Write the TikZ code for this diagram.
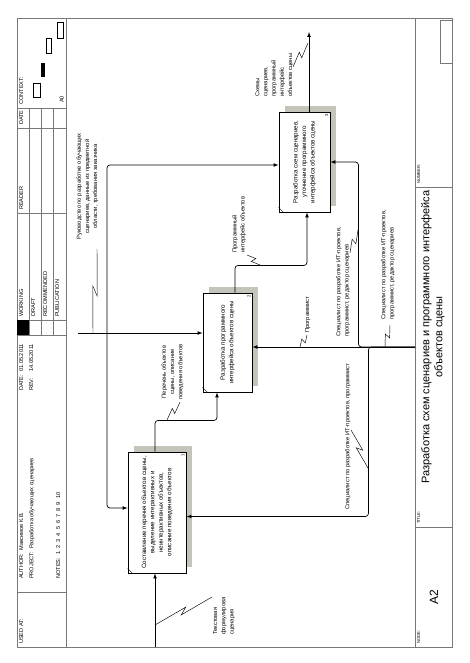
\documentclass[tikz,border=0pt]{standalone}
\usepackage{fontspec}
\setmainfont{Liberation Sans}
\usepackage{tikz}
\usetikzlibrary{calc}
\usetikzlibrary{arrows}
\usetikzlibrary{backgrounds}
\definecolor{shadowgray}{RGB}{196, 196, 186}
\definecolor{framegray}{RGB}{120, 120, 120}
\newcommand{\lblfont}{\fontsize{5.8}{8.2}\selectfont}
\newcommand{\boxfont}{\fontsize{6.2}{8.4}\selectfont}
\newcommand{\hdrfont}{\fontsize{5.6}{6.5}\selectfont}
\newcommand{\tinyfont}{\fontsize{4.2}{5}\selectfont}
\newcommand{\squig}[2]{\draw[squiggle] #1 -- ($#1!.56!#2!2.5pt!90:#2$) -- ($#1!.44!#2!2.5pt!-90:#2$) -- #2;}
\tikzset{
  act/.style={draw, line width=0.9pt, fill=white, align=center, font=\boxfont, inner sep=2pt},
  link/.style={line width=0.7pt, rounded corners=3pt},
  squiggle/.style={line width=0.45pt},
  lbl/.style={font=\lblfont, align=left, anchor=north west},
  hdr/.style={font=\hdrfont, anchor=north west},
  rule/.style={draw=framegray, line width=0.6pt},
}
\begin{document}
\begin{tikzpicture}[x=1pt, y=1pt, >=latex, every node/.style={rotate=90, inner sep=0pt}]
        \useasboundingbox (0,0) rectangle (469,663);
        % frame, header and footer
        \draw[rule] (17,16) rectangle (452,645);
        \draw[rule] (66,16) -- (66,645);
        \draw[rule] (415,16) -- (415,645);
        \foreach \u in {71,328,343,450,535,555}
            \draw[rule] (17,\u) -- (66,\u);
        \foreach \v in {29,41,53}
            \draw[rule] (\v,328) -- (\v,555);
        \fill (17,328) rectangle (29,343);
        \foreach \u in {136,476}
            \draw[rule] (415,\u) -- (452,\u);
        \draw[rule] (440,600) rectangle (452,643);
        \draw[line width=0.5pt] (33,566) rectangle (40,580);
        \fill                   (41,586) rectangle (45,600);
        \draw[line width=0.5pt] (46,610) rectangle (51,625);
        \draw[line width=0.5pt] (57,625) rectangle (63,641);

        \node[hdr] (usedat)   at (19,19)  {USED AT:};
        \node[hdr] (author)   at (19,84)  {AUTHOR:\ \ Максимов К.В.};
        \node[hdr] (project)  at (29,84)  {PROJECT:\ \ Разработка обучающих сценариев};
        \node[hdr] (notes)    at (56,84)  {NOTES:\ \ 1\ \ 2\ \ 3\ \ 4\ \ 5\ \ 6\ \ 7\ \ 8\ \ 9\ \ 10};
        \node[hdr] (date)     at (19,272) {DATE:\ \ 01.05.2011};
        \node[hdr] (rev)      at (29,272) {REV:\ \ \ \ 14.05.2011};
        \node[hdr] (working)  at (19,346) {WORKING};
        \node[hdr] (draft)    at (31,346) {DRAFT};
        \node[hdr] (recom)    at (43,346) {RECOMMENDED};
        \node[hdr] (publ)     at (55,346) {PUBLICATION};
        \node[hdr] (reader)   at (19,453) {READER};
        \node[hdr] (rdate)    at (19,538) {DATE};
        \node[hdr] (context)  at (19,558) {CONTEXT:};
        \node[hdr, anchor=south west] (ctxnode) at (64,560) {A0};
        \node[hdr, font=\tinyfont] (nodelbl)  at (417,19)  {NODE:};
        \node[hdr, font=\tinyfont] (titlelbl) at (417,139) {TITLE:};
        \node[hdr, font=\tinyfont] (numlbl)   at (417,479) {NUMBER:};
        \node[font=\fontsize{12}{14}\selectfont] (nodeno) at (434,66) {A2};
        \node[font=\fontsize{11}{13}\selectfont, align=center] (title) at (433,326)
             {Разработка схем сценариев и программного интерфейса\\объектов сцены};

        % activities
        \node[act, minimum width=121pt, minimum height=58pt] (b1) at (157,150.5)
             {Составление перечня объектов сцены,\\выделение интерактивных и\\неинтерактивных объектов,\\описание поведения объектов};
        \node[act, minimum width=99pt, minimum height=49pt] (b2) at (227.5,320.5)
             {Разработка программного\\интерфейса объектов сцены};
        \node[act, minimum width=100pt, minimum height=51pt] (b3) at (304.5,501)
             {Разработка схем сценариев,\\уточнение программного\\интерфейса объектов сцены};
        \begin{scope}[on background layer]
            \foreach \b in {b1,b2,b3}
                \fill[shadowgray] ($(\b.north west)+(6,6)$) rectangle ($(\b.south east)+(6,6)$);
        \end{scope}
        \foreach \b/\n in {b1/1,b2/2,b3/3} {
            \draw[line width=0.5pt] ($(\b.north west)+(0,5)$) -- ($(\b.north west)+(5,0)$);
            \node[font=\tinyfont, anchor=south east] (n\n) at ($(\b.south east)+(-2,-2)$) {\n};
        }

        % arrows
        \coordinate (inp)  at (155,16);
        \coordinate (ctl)  at (78,330);
        \coordinate (cj)   at (107,330);
        \coordinate (out3) at (309,631);
        \coordinate (mech) at (415,316);
        \draw[link,->] (inp) -- ([xshift=-2pt]b1.west);
        \draw[link,->] (ctl) -- (ctl -| b2.north);
        \draw[link,latex-latex] ([yshift=4.5pt]b1.north) -| (cj) |- ([yshift=-3pt]b3.north);
        \draw[link,->] ([xshift=-2pt]b1.east) |- ([xshift=-10.5pt,yshift=-28pt]b2.west) -- ([xshift=-10.5pt]b2.west);
        \draw[link,->] ([xshift=7.5pt]b2.east) |- ([xshift=2.5pt,yshift=-53pt]b3.west) -- ([xshift=2.5pt]b3.west);
        \draw[link,->] (b3.east -| out3) -- (out3);
        \draw[link,->] (mech) -- (mech -| b2.south);
        \draw[link,->] (mech) -| ([xshift=28pt]b3.south) -- (b3.south);
        \draw[link,->] (mech) -| ([xshift=182pt,yshift=-4pt]b1.south) -- ([yshift=-4pt]b1.south);

        % labels
        \node[lbl] (ltext) at (213,28) {Текстовая\\формулирова\\сценария};
        \node[lbl, align=center, anchor=center] (lguide) at (87.5,476.5)
             {Руководство по разработке обучающих\\сценариев, данные из предметной\\области, требования заказчика};
        \node[lbl, align=center, anchor=center] (llist) at (172.5,291)
             {Перечень объектов\\сцены, описание\\поведения объектов};
        \node[lbl] (lapi)  at (232,410) {Программный\\интерфейс объектов};
        \node[lbl] (lout)  at (255,566) {Схемы\\сценариев,\\программный\\интерфейс\\объектов сцены};
        \node[lbl] (lprog) at (305,330) {Программист};
        \node[lbl] (lspec3) at (336,326) {Специалист по разработке ИТ-проектов,\\программист, редактор сценариев};
        \node[lbl] (lspec)  at (381,343) {Специалист по разработке ИТ-проектов,\\программист, редактор сценариев};
        \node[lbl] (lspec1) at (345,153) {Специалист по разработке ИТ-проектов, программист};
        \squig{(212,66)}{(155,38)}
        \squig{(97,414)}{(93,330)}
        \squig{(180,261)}{(167,243)}
        \squig{(247,408)}{(260,398)}
        \squig{(293,596)}{(308,620)}
        \squig{(307,328)}{(300,316)}
        \squig{(350,410)}{(358,433)}
        \squig{(390,338)}{(385,316)}
        \squig{(351,233)}{(368,195)}
\end{tikzpicture}
\end{document}
